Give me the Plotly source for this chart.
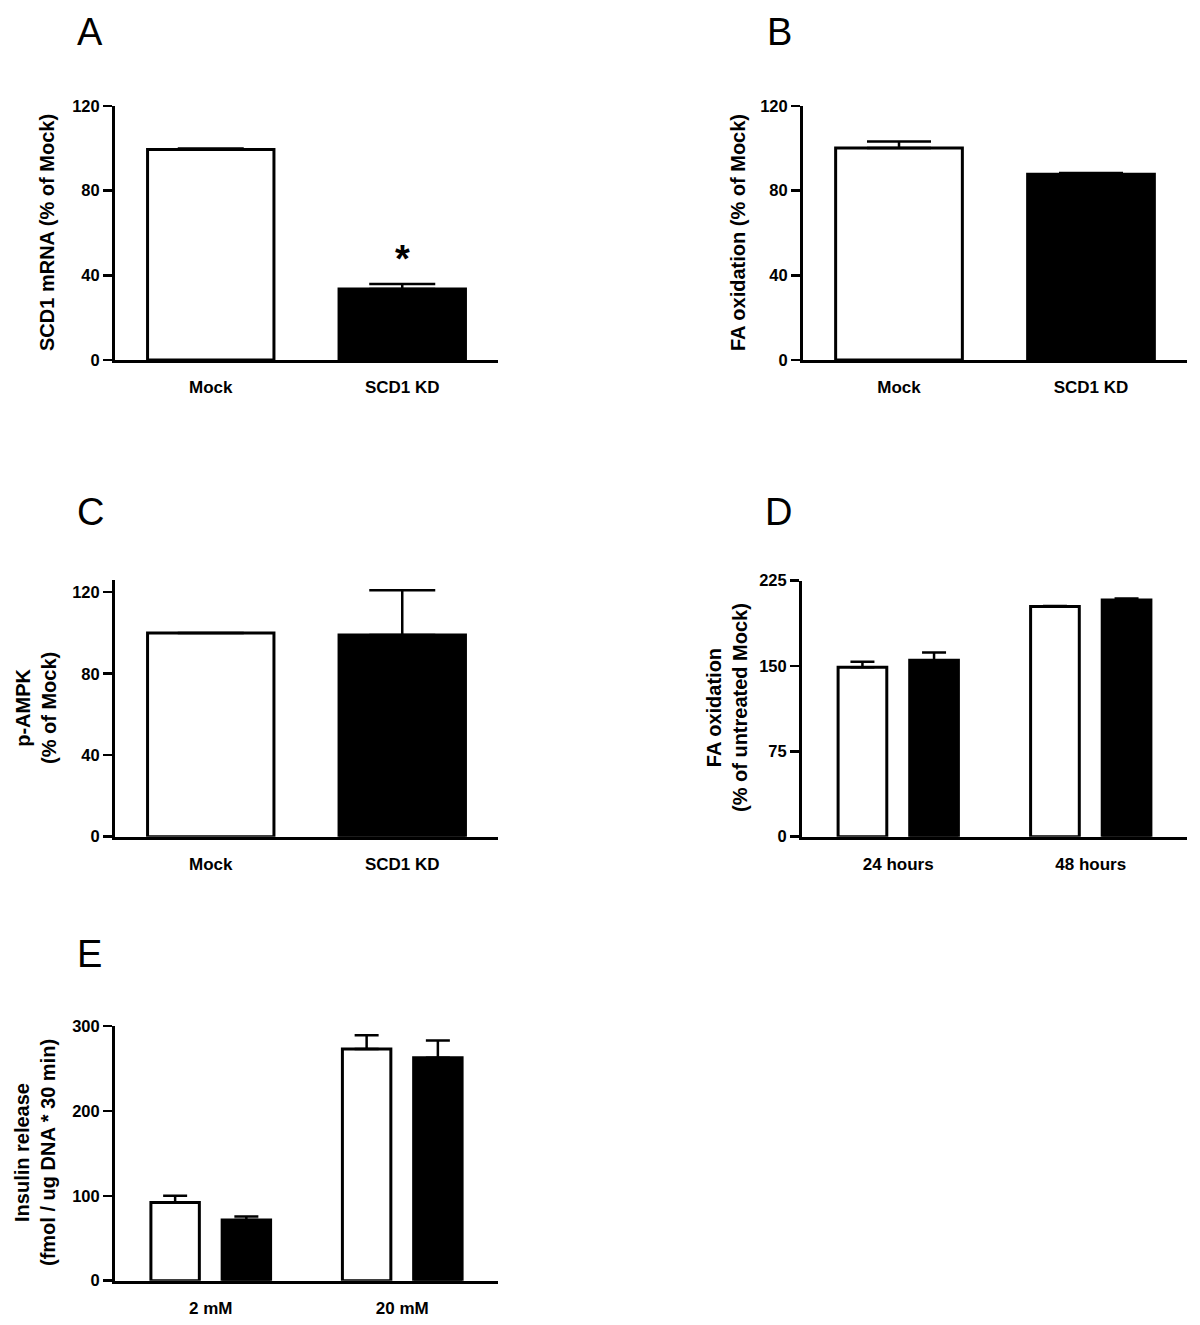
import plotly.graph_objects as go

# ---------------- data ----------------
# Panel A
a_cats = ["Mock", "SCD1 KD"]
a_vals = [99.5, 33.5]
a_err = [0.4, 2.4]
# Panel B
b_cats = ["Mock", "SCD1 KD"]
b_vals = [100.2, 87.8]
b_err = [3.0, 0.5]
# Panel C
c_cats = ["Mock", "SCD1 KD"]
c_vals = [100.0, 99.0]
c_err = [0.0, 22.0]
# Panel D
d_cats = ["24 hours", "48 hours"]
d_mock = [149.0, 202.3]
d_mock_err = [4.7, 0.4]
d_kd = [155.0, 208.0]
d_kd_err = [7.0, 1.3]
# Panel E
e_cats = ["2 mM", "20 mM"]
e_mock = [92.0, 273.0]
e_mock_err = [8.0, 16.0]
e_kd = [71.5, 262.5]
e_kd_err = [4.0, 20.5]

# ---------------- layout helpers ----------------
W, H = 1200, 1325
FONT = "Liberation Sans, Arial, sans-serif"


def px_x(v):
    return v / W


def px_y(v):
    return 1 - v / H


def xaxis(x0, x1, anchor):
    return dict(
        domain=[px_x(x0), px_x(x1)], anchor=anchor, type="category",
        range=[-0.5, 1.5], showline=True, linewidth=3, linecolor="black",
        ticks="", showgrid=False, zeroline=False, fixedrange=True,
        automargin=False, ticklabelstandoff=10,
        tickfont=dict(family=FONT, size=17, color="black", weight="bold"),
    )


def yaxis(y_top, y_bot, anchor, rng, tickvals):
    return dict(
        domain=[px_y(y_bot), px_y(y_top)], anchor=anchor, range=rng,
        tickvals=tickvals, showline=True, linewidth=3, linecolor="black",
        ticks="outside", ticklen=9, tickwidth=2.5, tickcolor="black",
        showgrid=False, zeroline=False, fixedrange=True, automargin=False,
        tickfont=dict(family=FONT, size=16.5, color="black", weight="bold"),
    )


def err(arr, w):
    return dict(type="data", array=arr, arrayminus=[0] * len(arr), symmetric=False,
                color="black", thickness=2.5, width=w, visible=True)


line = dict(color="black", width=3)

fig = go.Figure()

# A
fig.add_trace(go.Bar(x=a_cats, y=a_vals, width=0.66,
                     marker=dict(color=["white", "black"], line=line),
                     error_y=err(a_err, 33), xaxis="x", yaxis="y", showlegend=False))
# B
fig.add_trace(go.Bar(x=b_cats, y=b_vals, width=0.66,
                     marker=dict(color=["white", "black"], line=line),
                     error_y=err(b_err, 32), xaxis="x2", yaxis="y2", showlegend=False))
# C
fig.add_trace(go.Bar(x=c_cats, y=c_vals, width=0.66,
                     marker=dict(color=["white", "black"], line=line),
                     error_y=err(c_err, 33), xaxis="x3", yaxis="y3", showlegend=False))
# D
fig.add_trace(go.Bar(x=d_cats, y=d_mock, marker=dict(color="white", line=line),
                     error_y=err(d_mock_err, 12), xaxis="x4", yaxis="y4", showlegend=False))
fig.add_trace(go.Bar(x=d_cats, y=d_kd, marker=dict(color="black", line=line),
                     error_y=err(d_kd_err, 12), xaxis="x4", yaxis="y4", showlegend=False))
# E
fig.add_trace(go.Bar(x=e_cats, y=e_mock, marker=dict(color="white", line=line),
                     error_y=err(e_mock_err, 12), xaxis="x5", yaxis="y5", showlegend=False))
fig.add_trace(go.Bar(x=e_cats, y=e_kd, marker=dict(color="black", line=line),
                     error_y=err(e_kd_err, 12), xaxis="x5", yaxis="y5", showlegend=False))

annotations = []

# Significance star on panel A
annotations.append(dict(x=a_cats[1], y=a_vals[1] + a_err[1], xref="x", yref="y",
                        text="*", showarrow=False, yanchor="bottom", yshift=2,
                        font=dict(family=FONT, size=38, color="black", weight="bold")))

# Y-axis titles
ytitles = [
    ("SCD1 mRNA (% of Mock)", 47, 233),
    ("FA oxidation (% of Mock)", 738, 233),
    ("p-AMPK<br>(% of Mock)", 36, 708),
    ("FA oxidation<br>(% of untreated Mock)", 727, 708),
    ("Insulin release<br>(fmol / ug DNA * 30 min)", 35, 1153),
]
for txt, xc, yc in ytitles:
    annotations.append(dict(x=px_x(xc), y=px_y(yc), xref="paper", yref="paper",
                            text=txt, textangle=-90, showarrow=False,
                            xanchor="center", yanchor="middle",
                            font=dict(family=FONT, size=20, color="black", weight="bold")))

# Panel letters
letters = [("A", 90, 32), ("B", 779, 32), ("C", 90, 512), ("D", 778, 512), ("E", 89, 954)]
for txt, xc, yc in letters:
    annotations.append(dict(x=px_x(xc), y=px_y(yc), xref="paper", yref="paper",
                            text=txt, showarrow=False, xanchor="center", yanchor="middle",
                            font=dict(family=FONT, size=38, color="black")))

fig.update_layout(
    width=W, height=H, autosize=False,
    margin=dict(l=0, r=0, t=0, b=0, pad=0),
    paper_bgcolor="white", plot_bgcolor="white",
    barmode="group", bargap=0.256, bargroupgap=0.32,
    showlegend=False,
    xaxis=xaxis(115, 498, "y"),
    yaxis=yaxis(106, 360, "x", [0, 120], [0, 40, 80, 120]),
    xaxis2=xaxis(803, 1187, "y2"),
    yaxis2=yaxis(106, 360, "x2", [0, 120], [0, 40, 80, 120]),
    xaxis3=xaxis(115, 498, "y3"),
    yaxis3=yaxis(580, 836.7, "x3", [0, 126], [0, 40, 80, 120]),
    xaxis4=xaxis(802, 1187, "y4"),
    yaxis4=yaxis(580.7, 836.7, "x4", [0, 225], [0, 75, 150, 225]),
    xaxis5=xaxis(115, 498, "y5"),
    yaxis5=yaxis(1026, 1280.7, "x5", [0, 300], [0, 100, 200, 300]),
    annotations=annotations,
)

fig.write_html(
    "out.html",
    config={"displayModeBar": False, "staticPlot": True},
    post_script="document.body.style.margin='0';document.body.style.padding='0';",
)
